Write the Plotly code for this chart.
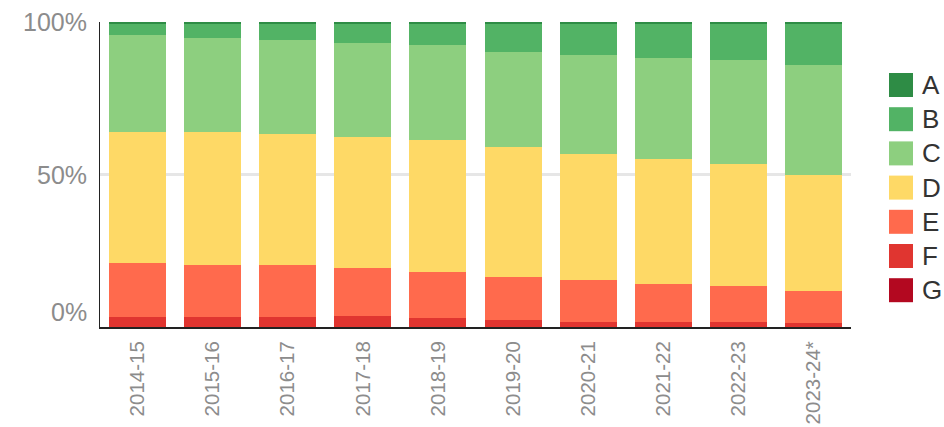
import plotly.graph_objects as go

categories = ["2014-15", "2015-16", "2016-17", "2017-18", "2018-19",
              "2019-20", "2020-21", "2021-22", "2022-23", "2023-24*"]

A = [0.5, 0.5, 0.5, 0.5, 0.5, 0.5, 0.5, 0.5, 0.5, 0.5]
B = [3.9, 4.7, 5.3, 6.3, 7.2, 9.3, 10.2, 11.2, 11.9, 13.5]
C = [31.6, 30.8, 30.8, 30.8, 30.9, 31.1, 32.5, 33.2, 34.1, 36.2]
D = [43.1, 43.8, 43.2, 43.1, 43.5, 42.8, 41.5, 41.1, 40.2, 38.1]
E = [17.7, 17.0, 17.0, 15.8, 15.1, 14.1, 13.8, 12.5, 11.5, 10.5]
F = [3.1, 3.1, 3.1, 3.4, 2.7, 2.1, 1.4, 1.4, 1.7, 1.1]
G = [0.1, 0.1, 0.1, 0.1, 0.1, 0.1, 0.1, 0.1, 0.1, 0.1]

series_names = ["A", "B", "C", "D", "E", "F", "G"]
series_values = [A, B, C, D, E, F, G]
colors = ["#2e8c45", "#52b365", "#8dcf7f", "#fed966", "#ff6a4d", "#e03530", "#b30820"]

y_tick_vals = [0, 50, 100]
y_tick_text = ["0%", "50%", "100%"]

W, H = 944, 427
ML, MR, MT, MB = 100, 93, 22, 100
PW = W - ML - MR
PH = H - MT - MB

fig = go.Figure()
# stack from bottom (G) to top (A)
for name, vals, col in reversed(list(zip(series_names, series_values, colors))):
    fig.add_trace(go.Bar(x=categories, y=vals, name=name, marker_color=col,
                         marker_line_width=0, showlegend=False))


def px_to_x(px):
    return (px - ML) / PW


def px_to_y(py):
    return (H - MB - py) / PH


# custom legend (squares + text)
shapes = []
annotations = []
for i, (name, col) in enumerate(zip(series_names, colors)):
    cy = 85 + i * 34.2
    shapes.append(dict(type="rect", xref="paper", yref="paper",
                       x0=px_to_x(889), x1=px_to_x(913),
                       y0=px_to_y(cy + 12), y1=px_to_y(cy - 12),
                       fillcolor=col, line_width=0))
    annotations.append(dict(text=name, xref="paper", yref="paper",
                            x=px_to_x(920), y=px_to_y(cy), xanchor="left",
                            yanchor="middle", showarrow=False,
                            font=dict(size=26, color="#333333")))

# y tick labels (bottom label lifted above the axis line, as in the reference)
for v, t in zip(y_tick_vals, y_tick_text):
    annotations.append(dict(text=t, xref="paper", yref="y", x=0, y=v,
                            xanchor="right", yanchor="middle", xshift=-11,
                            yshift=15 if v == 0 else 0, showarrow=False,
                            font=dict(size=25, color="#8c8c8c")))

fig.update_layout(
    width=W, height=H,
    margin=dict(l=ML, r=MR, t=MT, b=MB, autoexpand=False),
    barmode="stack",
    bargap=0.24,
    plot_bgcolor="white", paper_bgcolor="white",
    font=dict(family="Liberation Sans, Arial, sans-serif"),
    shapes=shapes, annotations=annotations,
    showlegend=False,
)
fig.update_yaxes(range=[0, 100], tickvals=y_tick_vals, showticklabels=False,
                 showgrid=True, gridcolor="#e6e6e6", gridwidth=3,
                 zeroline=False, showline=True, linecolor="#222222", linewidth=1,
                 ticks="", automargin=False)
fig.update_xaxes(showline=True, linecolor="#222222", linewidth=2,
                 tickangle=-90, ticks="", ticklabelstandoff=4, automargin=False,
                 tickfont=dict(size=20.5, color="#8c8c8c"))

fig.write_html("out.html", config={"displayModeBar": False},
               post_script="document.body.style.margin='0';document.body.style.overflow='hidden';")
